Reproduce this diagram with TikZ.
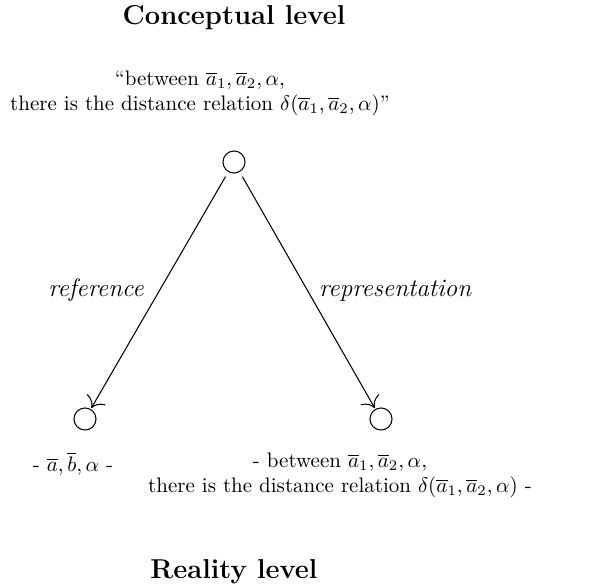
\documentclass[tikz,border=0pt]{standalone}
\usetikzlibrary{arrows.meta,positioning}

\begin{document}
\begin{tikzpicture}[x=0.476pt,y=-0.476pt,
    lvl/.style={font=\fontsize{13}{16}\selectfont\bfseries},
    txt/.style={align=center,font=\normalsize},
    lbl/.style={font=\large\itshape},
    obj/.style={circle,draw,line width=0.5pt,minimum size=10.5pt,inner sep=0pt},
    rel/.style={line width=0.5pt,-{To[scale=1.8]},shorten <=2.5pt,shorten >=0.5pt}]
      \useasboundingbox (0,0) rectangle (607,585);
      \node[lvl] (concept) at (234,18) {Conceptual level};
      \node[txt] (quote) at (200,93)
        {``between $\overline{a}_1,\overline{a}_2,\alpha$,\\
         there is the distance relation $\delta(\overline{a}_1,\overline{a}_2,\alpha)$''};
      \foreach \x/\y/\n in {234/162/top,85/419/left,381/419/right}
        \node[obj] (\n) at (\x,\y) {};
      \draw[rel] (top) -- node[lbl,left=4pt] {reference} (left);
      \draw[rel] (top) -- node[lbl,right=2pt] {representation} (right);
      \node[txt] (things) at (73,464) {- $\overline{a},\overline{b},\alpha$ -};
      \node[txt] (facts) at (340,475)
        {- between $\overline{a}_1,\overline{a}_2,\alpha$,\\
         there is the distance relation $\delta(\overline{a}_1,\overline{a}_2,\alpha)$ -};
      \node[lvl] (reality) at (234,572) {Reality level};
    \end{tikzpicture}
\end{document}
